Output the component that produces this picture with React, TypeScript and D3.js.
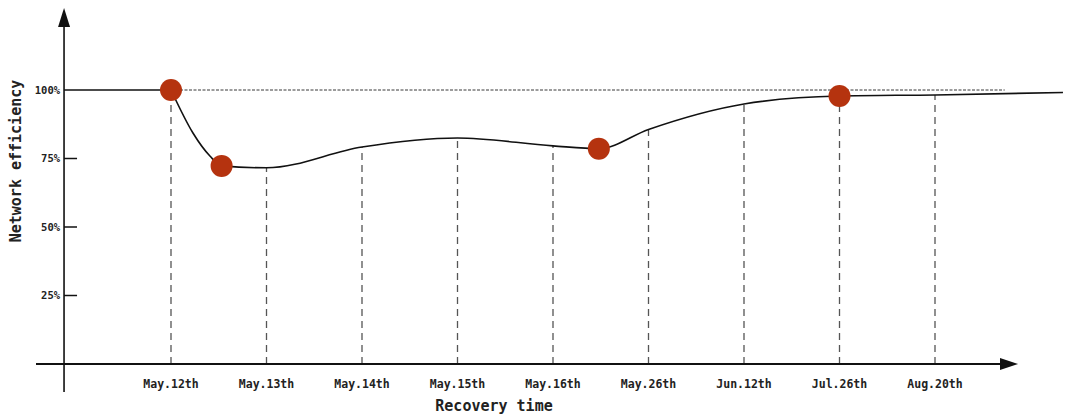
import React from "react";
import * as d3 from "d3";

const categories = ["May.12th", "May.13th", "May.14th", "May.15th", "May.16th", "May.26th", "Jun.12th", "Jul.26th", "Aug.20th"];
// values at each category (percent)
const categoryValues = [100, 71.6, 79.2, 82.5, 79.6, 85.6, 94.9, 97.8, 98.2];
// curve: position in category-index units, value in percent
const curvePos = [0, 0.23, 0.41, 0.53, 1, 2, 3, 4, 4.48, 5, 6, 7, 8, 9.34];
const curveVal = [100, 84.3, 75.8, 72.3, 71.6, 79.2, 82.5, 79.6, 78.6, 85.6, 94.9, 97.8, 98.2, 99.1];
const flatPos = [-1.12, 0];
const flatVal = [100, 100];
// highlighted points
const markerPos = [0, 0.53, 4.48, 7];
const markerVal = [100, 72.3, 78.6, 97.8];
const yTicks = [25, 50, 75, 100];
const yTickLabels = ["25%", "50%", "75%", "100%"];
const refLineEnd = 8.73;

const W = 1072;
const H = 420;

export default function App() {
  const x = d3.scaleLinear().domain([0, 8]).range([171, 935]);
  const y = d3.scaleLinear().domain([0, 100]).range([364, 90]);
  const axisX = x(-1.12);
  const axisY = y(0);

  const curveData = curvePos.map((p, i) => [p, curveVal[i]] as [number, number]);
  const line = d3
    .line<[number, number]>()
    .x((d) => x(d[0]))
    .y((d) => y(d[1]))
    .curve(d3.curveMonotoneX);
  const flatLine = d3
    .line<[number, number]>()
    .x((d) => x(d[0]))
    .y((d) => y(d[1]));
  const flatData = flatPos.map((p, i) => [p, flatVal[i]] as [number, number]);

  const mono = "'DejaVu Sans Mono', monospace";

  return (
    <svg width={W} height={H} style={{ position: "absolute", left: 0, top: 0, background: "#fff" }}>
      {/* reference dotted line at 100% */}
      <line x1={x(0)} x2={x(refLineEnd)} y1={y(100)} y2={y(100)} stroke="#222" strokeWidth={0.9} strokeDasharray="3,1.5" />
      {/* dashed verticals */}
      {categories.map((c, i) => (
        <line key={c} x1={x(i)} x2={x(i)} y1={axisY} y2={y(categoryValues[i]) + (i === 0 ? 8 : 0)} stroke="#555" strokeWidth={1.3} strokeDasharray="7,5" />
      ))}
      {/* axes */}
      <line x1={36} x2={1002} y1={axisY} y2={axisY} stroke="#111" strokeWidth={2} />
      <path d={`M1018,${axisY} L1000,${axisY - 6} L1000,${axisY + 6} Z`} fill="#111" />
      <line x1={axisX} x2={axisX} y1={392} y2={24} stroke="#111" strokeWidth={1.6} />
      <path d={`M${axisX},8 L${axisX - 6},27 L${axisX + 6},27 Z`} fill="#111" />
      {/* y ticks */}
      {yTicks.map((t, i) => (
        <g key={t}>
          {t !== 100 && <line x1={axisX} x2={axisX + 13} y1={y(t)} y2={y(t)} stroke="#111" strokeWidth={1.5} />}
          <text x={axisX - 4} y={y(t)} dy="0.35em" textAnchor="end" fontFamily={mono} fontSize={10.5} fontWeight="bold" fill="#222">
            {yTickLabels[i]}
          </text>
        </g>
      ))}
      {/* curve */}
      <path d={flatLine(flatData) || ""} fill="none" stroke="#111" strokeWidth={1.6} />
      <path d={line(curveData) || ""} fill="none" stroke="#111" strokeWidth={1.6} />
      {/* markers */}
      {markerPos.map((p, i) => (
        <circle key={i} cx={x(p)} cy={y(markerVal[i])} r={11} fill="#b5330f" />
      ))}
      {/* x labels */}
      {categories.map((c, i) => (
        <text key={c} x={x(i)} y={388} textAnchor="middle" fontFamily={mono} fontSize={11.5} fontWeight="bold" fill="#222">
          {c}
        </text>
      ))}
      {/* axis titles */}
      <text x={494} y={411} textAnchor="middle" fontFamily={mono} fontSize={15} fontWeight="bold" fill="#222">
        Recovery time
      </text>
      <text transform="translate(21,161) rotate(-90)" textAnchor="middle" fontFamily={mono} fontSize={15} fontWeight="bold" fill="#222">
        Network efficiency
      </text>
    </svg>
  );
}
